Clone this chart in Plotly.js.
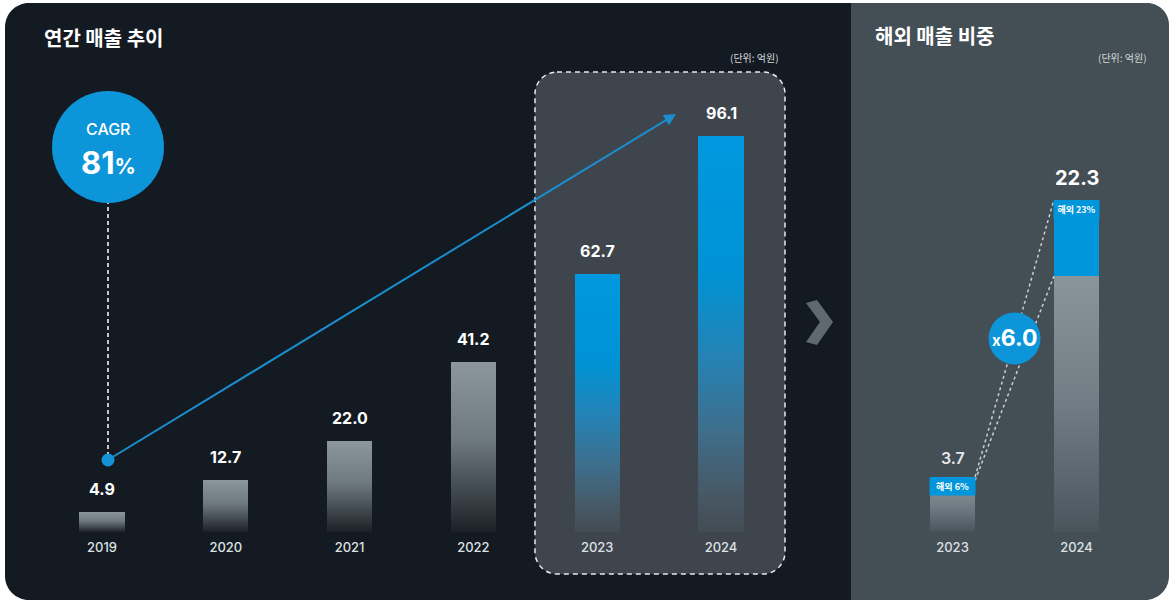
<!DOCTYPE html>
<html><head><meta charset="utf-8">
<script src="https://cdn.plot.ly/plotly-3.0.1.min.js"></script>
<style>html,body{margin:0;padding:0;background:#fff;} #chart{width:1171px;height:602px;}</style>
</head><body><div id="chart"></div>
<script>
// ---- data ----
const years = ['2019', '2020', '2021', '2022', '2023', '2024'];
const revenue = [4.9, 12.7, 22.0, 41.2, 62.7, 96.1];
const highlighted = [false, false, false, false, true, true];
const shareYears = ['2023', '2024'];
const shareTotal = [3.7, 22.3];
const overseasPct = [6, 23];
const cagrPct = 81;
const growthMultiple = 6.0;
const leftTitle = '연간 매출 추이';
const rightTitle = '해외 매출 비중';
const unitLabel = '(단위: 억원)';
const overseasWord = '해외';

const overseas = shareTotal.map((t, i) => t * overseasPct[i] / 100);
const domestic = shareTotal.map((t, i) => t - overseas[i]);

// ---- geometry helpers (pixel -> paper) ----
const W = 1171, H = 602;
const X = px => px / W;
const Y = py => 1 - py / H;
const FONT = "Inter, 'Noto Sans CJK KR', sans-serif";
const KFONT = "'Noto Sans CJK KR', Inter, sans-serif";

function rr(x0, y0, x1, y1, c) {
  const k = 0.5523;
  const f = (x, y) => X(x).toFixed(5) + ',' + Y(y).toFixed(5);
  let p = 'M' + f(x0 + c.tl, y0) + ' L' + f(x1 - c.tr, y0);
  if (c.tr) p += ' C' + f(x1 - c.tr + k * c.tr, y0) + ' ' + f(x1, y0 + c.tr - k * c.tr) + ' ' + f(x1, y0 + c.tr);
  p += ' L' + f(x1, y1 - c.br);
  if (c.br) p += ' C' + f(x1, y1 - c.br + k * c.br) + ' ' + f(x1 - c.br + k * c.br, y1) + ' ' + f(x1 - c.br, y1);
  p += ' L' + f(x0 + c.bl, y1);
  if (c.bl) p += ' C' + f(x0 + c.bl - k * c.bl, y1) + ' ' + f(x0, y1 - c.bl + k * c.bl) + ' ' + f(x0, y1 - c.bl);
  p += ' L' + f(x0, y0 + c.tl);
  if (c.tl) p += ' C' + f(x0, y0 + c.tl - k * c.tl) + ' ' + f(x0 + c.tl - k * c.tl, y0) + ' ' + f(x0 + c.tl, y0);
  return p + ' Z';
}
function circ(cx, cy, r, fill) {
  return {type: 'circle', xref: 'paper', yref: 'paper', x0: X(cx - r), x1: X(cx + r), y0: Y(cy + r), y1: Y(cy - r),
    fillcolor: fill, line: {width: 0}, layer: 'above'};
}
function paperText(px, py, text, font, xanchor) {
  return {xref: 'paper', yref: 'paper', x: X(px), y: Y(py), xanchor: xanchor || 'center', yanchor: 'middle',
    showarrow: false, text: text, font: font};
}

const BAR_W = 0.365;
const yDom = [Y(532), Y(60)];

const data = [
  {type: 'bar', x: years, y: revenue, xaxis: 'x', yaxis: 'y', width: BAR_W,
   marker: {color: highlighted.map(h => h ? '#0096dc' : '#8a969c'), line: {width: 0}},
   hoverinfo: 'none', textposition: 'none'},
  {type: 'bar', x: shareYears, y: domestic, xaxis: 'x2', yaxis: 'y2', width: BAR_W,
   marker: {color: '#88939a', line: {width: 0}}, hoverinfo: 'none', textposition: 'none'},
  {type: 'bar', x: shareYears, y: overseas, xaxis: 'x2', yaxis: 'y2', width: BAR_W,
   marker: {color: '#0096dc', line: {width: 0}}, hoverinfo: 'none', textposition: 'none'}
];

const annotations = [];
// titles
annotations.push(paperText(42, 37, leftTitle, {family: KFONT, size: 20, color: '#ffffff', weight: 700}, 'left'));
annotations.push(paperText(873, 36, rightTitle, {family: KFONT, size: 20, color: '#ffffff', weight: 700}, 'left'));
annotations.push(paperText(781, 57, unitLabel, {family: KFONT, size: 10, color: '#d3d7da'}, 'right'));
annotations.push(paperText(1149, 57, unitLabel, {family: KFONT, size: 10, color: '#d3d7da'}, 'right'));
// value labels (left) - category index positions
years.forEach((yr, i) => {
  annotations.push({xref: 'x', yref: 'y', x: i, y: revenue[i], xanchor: 'center', yanchor: 'middle', yshift: 23, showarrow: false,
    text: revenue[i].toFixed(1), font: {family: FONT, size: 16, color: '#ffffff', weight: 700}});
});
// value labels (right)
const totalSizes = [16, 20];
shareYears.forEach((yr, i) => {
  annotations.push({xref: 'x2', yref: 'y2', x: i, y: shareTotal[i], xanchor: 'center', yanchor: 'middle', yshift: i === 0 ? 19 : 22, showarrow: false,
    text: shareTotal[i].toFixed(1), font: {family: FONT, size: totalSizes[i], color: i === 0 ? '#e6e9eb' : '#ffffff', weight: i === 0 ? 600 : 700}});
  annotations.push({xref: 'x2', yref: 'y2', x: i, y: shareTotal[i], xanchor: 'center', yanchor: 'top', yshift: 0, showarrow: false,
    text: overseasWord + ' ' + overseasPct[i] + '%', bgcolor: '#0096dc', width: 41, height: 13, borderpad: 2,
    font: {family: KFONT, size: 9, color: '#ffffff', weight: 600}});
});
// CAGR bubble text
annotations.push(paperText(108, 129, 'CAGR', {family: FONT, size: 16, color: '#ffffff', weight: 500}));
annotations.push(paperText(108, 163, '<b>' + cagrPct + '</b><span style="font-size:21px">%</span>',
  {family: FONT, size: 31, color: '#ffffff', weight: 700}));
// CAGR arrow
annotations.push({xref: 'x', yref: 'y', axref: 'x', ayref: 'y', x: 4.637, y: 101.5, ax: 0.048, ay: 17.5,
  showarrow: true, arrowhead: 2, arrowsize: 1.2, arrowwidth: 2, arrowcolor: '#1b8dcd', text: ''});
// growth multiple text
const midY = (shareTotal[0] + shareTotal[1]) / 2;
annotations.push({xref: 'x2', yref: 'y2', x: 0.5, y: midY, xanchor: 'center', yanchor: 'middle', showarrow: false,
  text: '<span style="font-size:15px">x</span><b>' + growthMultiple.toFixed(1) + '</b>',
  font: {family: FONT, size: 23, color: '#ffffff', weight: 700}});

const shapes = [
  {type: 'path', xref: 'paper', yref: 'paper', path: rr(5, 3, 851, 600, {tl: 24, tr: 0, br: 0, bl: 24}),
   fillcolor: '#131a21', line: {width: 0}, layer: 'below'},
  {type: 'path', xref: 'paper', yref: 'paper', path: rr(851, 3, 1169, 600, {tl: 0, tr: 22, br: 24, bl: 0}),
   fillcolor: '#434e55', line: {width: 0}, layer: 'below'},
  {type: 'path', xref: 'paper', yref: 'paper', path: rr(535, 72, 785, 574, {tl: 22, tr: 22, br: 22, bl: 22}),
   fillcolor: '#3e454c', line: {width: 1.5, color: '#e8eaeb', dash: '5px,4px'}, layer: 'below'},
  {type: 'path', xref: 'paper', yref: 'paper',
   path: 'M' + X(806) + ',' + Y(303) + ' L' + X(817) + ',' + Y(300) + ' L' + X(833) + ',' + Y(322) + ' L' + X(817) + ',' + Y(345) +
         ' L' + X(806) + ',' + Y(342) + ' L' + X(820) + ',' + Y(322) + ' Z',
   fillcolor: '#5f696f', line: {width: 0}, layer: 'below'},
  {type: 'line', xref: 'paper', yref: 'paper', x0: X(108), x1: X(108), y0: Y(200), y1: Y(460),
   line: {color: '#ffffff', width: 1.5, dash: '4px,3px'}, layer: 'above'},
  circ(108, 147, 56, '#0d95d9'),
  circ(108, 460, 6.5, '#1493d8'),
  {type: 'line', xref: 'x2', yref: 'y2', x0: BAR_W / 2, x1: 1 - BAR_W / 2, y0: shareTotal[0], y1: shareTotal[1],
   line: {color: '#c9cfd3', width: 1.5, dash: 'dot'}, layer: 'above'},
  {type: 'line', xref: 'x2', yref: 'y2', x0: BAR_W / 2, x1: 1 - BAR_W / 2, y0: domestic[0], y1: domestic[1],
   line: {color: '#c9cfd3', width: 1.5, dash: 'dot'}, layer: 'above'},
  {type: 'circle', xref: 'x2', yref: 'y2', xsizemode: 'pixel', ysizemode: 'pixel', xanchor: 0.5, yanchor: midY,
   x0: -26, x1: 26, y0: -26, y1: 26, fillcolor: '#0d95d9', line: {width: 0}, layer: 'above'}
];

const axisCommon = {type: 'category', showgrid: false, zeroline: false, showline: false, ticks: '',
  tickfont: {family: FONT, size: 13, color: '#dde1e4', weight: 500}, ticklabelstandoff: 6, fixedrange: true};

const layout = {
  width: W, height: H, autosize: false,
  margin: {l: 0, r: 0, t: 0, b: 0, pad: 0},
  paper_bgcolor: '#ffffff', plot_bgcolor: 'rgba(0,0,0,0)',
  showlegend: false, barmode: 'stack', bargap: 0,
  xaxis: Object.assign({}, axisCommon, {domain: [X(40.1), X(782.9)], range: [-0.5, 5.5], anchor: 'y'}),
  yaxis: {domain: yDom, range: [0, 114.6], visible: false, fixedrange: true, anchor: 'x'},
  xaxis2: Object.assign({}, axisCommon, {domain: [X(890.5), X(1138.5)], range: [-0.5, 1.5], anchor: 'y2'}),
  yaxis2: {domain: yDom, range: [0, 31.7], visible: false, fixedrange: true, anchor: 'x2'},
  shapes: shapes,
  annotations: annotations
};

const gd = document.getElementById('chart');
Plotly.newPlot(gd, data, layout, {staticPlot: true, displayModeBar: false}).then(function () {
  const NS = 'http://www.w3.org/2000/svg';
  const svg = gd.querySelector('svg.main-svg');
  let defs = svg.querySelector('defs');
  if (!defs) { defs = document.createElementNS(NS, 'defs'); svg.insertBefore(defs, svg.firstChild); }
  function grad(id, stops) {
    const g = document.createElementNS(NS, 'linearGradient');
    g.setAttribute('id', id); g.setAttribute('x1', '0'); g.setAttribute('y1', '0'); g.setAttribute('x2', '0'); g.setAttribute('y2', '1');
    stops.forEach(s => {
      const st = document.createElementNS(NS, 'stop');
      st.setAttribute('offset', s[0]); st.setAttribute('stop-color', s[1]);
      g.appendChild(st);
    });
    defs.appendChild(g);
  }
  grad('gGrayL', [[0, '#8b979d'], [0.45, '#6f7a80'], [0.8, '#3a4248'], [1, '#1a2127']]);
  grad('gBlueL', [[0, '#0098df'], [0.35, '#0092d4'], [0.55, '#2483b6'], [0.75, '#3f6d8a'], [0.9, '#475966'], [1, '#434c53']]);
  grad('gGrayR', [[0, '#8a959b'], [0.5, '#717d84'], [0.85, '#56626a'], [1, '#48535a']]);
  const traces = gd.querySelectorAll('.barlayer .trace');
  if (traces[0]) traces[0].querySelectorAll('.point path').forEach((p, i) => {
    p.style.fill = highlighted[i] ? 'url(#gBlueL)' : 'url(#gGrayL)';
  });
  if (traces[1]) traces[1].querySelectorAll('.point path').forEach(p => { p.style.fill = 'url(#gGrayR)'; });
});
</script>
</body></html>
